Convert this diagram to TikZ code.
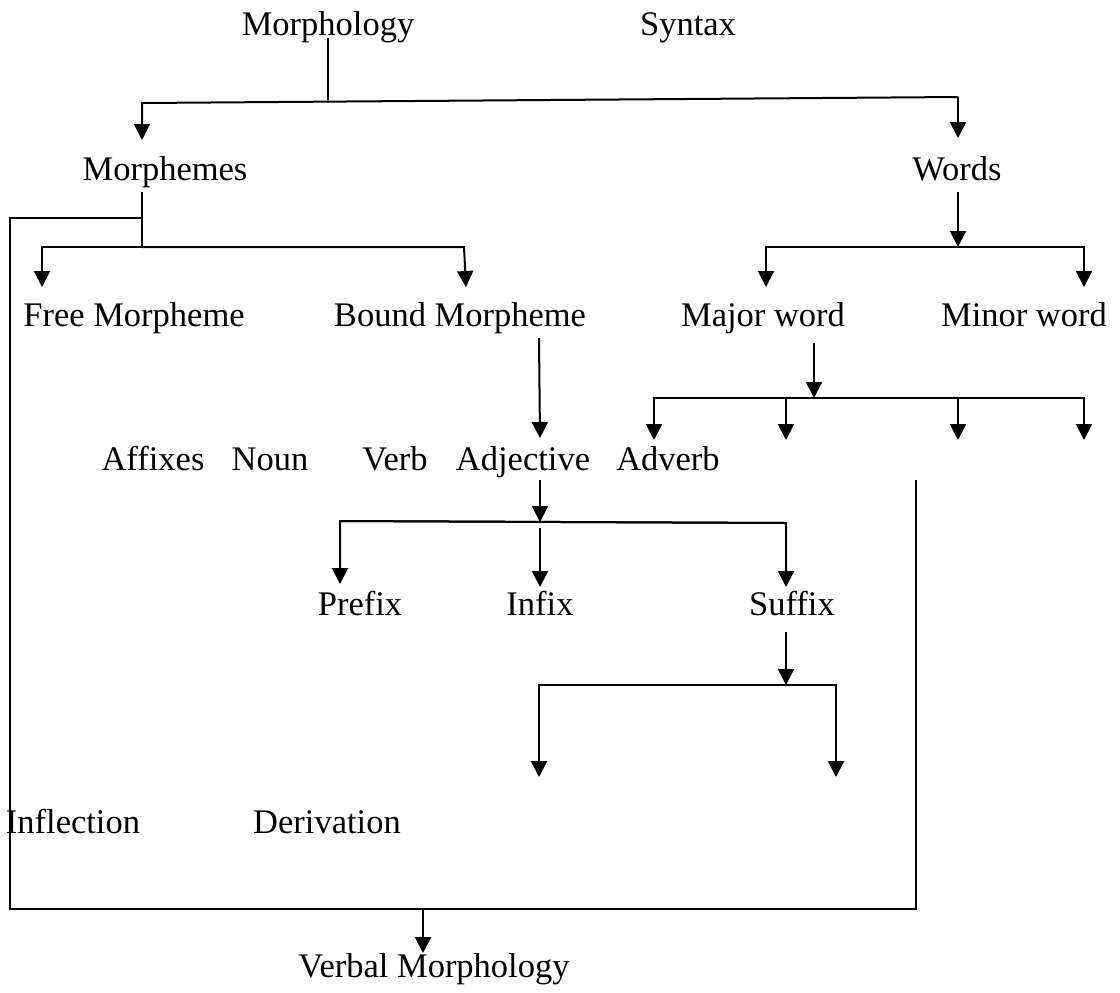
\documentclass[tikz,border=0pt]{standalone}
\usepackage{fontspec}
\setmainfont{Liberation Serif}
\usetikzlibrary{arrows.meta}
\tikzset{
  word/.style={anchor=base, inner sep=0pt, font=\fontsize{17.25}{20}\selectfont},
  wire/.style={line width=1pt},
  arr/.style={line width=1pt, -{Triangle[length=8pt,width=8pt]}}
}
\begin{document}
\begin{tikzpicture}[x=0.5pt, y=-0.5pt]
    \useasboundingbox (0,0) rectangle (1120,992);
    % labels
    \node[word] (morph) at (328,35) {Morphology};
    \node[word] (syntax) at (688,35) {Syntax};
    \node[word] (morphemes) at (165,180) {Morphemes};
    \node[word] (words) at (957,180) {Words};
    \node[word] (free) at (134,326) {Free Morpheme};
    \node[word] (bound) at (460,326) {Bound Morpheme};
    \node[word] (major) at (763,326) {Major word};
    \node[word] (minor) at (1024,326) {Minor word};
    \node[word] (affixes) at (153,470) {Affixes};
    \node[word] (noun) at (270,470) {Noun};
    \node[word] (verb) at (395,470) {Verb};
    \node[word] (adj) at (523,470) {Adjective};
    \node[word] (adverb) at (668,470) {Adverb};
    \node[word] (prefix) at (360,615) {Prefix};
    \node[word] (infix) at (540,615) {Infix};
    \node[word] (suffix) at (792,615) {Suffix};
    \node[word] (infl) at (73,833) {Inflection};
    \node[word] (deriv) at (327,833) {Derivation};
    \node[word] (verbal) at (434,977) {Verbal Morphology};

    % Morphology -> Morphemes / Words
    \coordinate (mo1) at (328,38);
    \coordinate (mo2) at (328,100);
    \coordinate (busL) at (142,103);
    \coordinate (busR) at (958,97);
    \draw[wire] (mo1) -- (mo2);
    \draw[arr] (busR) -- (busL) -- (142,140);
    \draw[arr] (busR) -- (958,138);

    % Morphemes
    \coordinate (ms1) at (142,192);
    \coordinate (ms2) at (142,247);
    \draw[wire] (ms1) -- (ms2);
    \draw[arr] (ms2) -- (42,247) -- (42,287);
    \draw[arr] (ms2) -- (464,247) -- (466,287);

    % outer frame -> Verbal Morphology
    \coordinate (fr) at (142,218);
    \coordinate (frR) at (916,480);
    \coordinate (vb) at (423,909);
    \draw[wire] (fr) -- (10,218) -- (10,909) -- (916,909) -- (frR);
    \draw[arr] (vb) -- (423,953);

    % Words
    \coordinate (wd1) at (958,192);
    \coordinate (wd2) at (958,247);
    \draw[arr] (wd1) -- (wd2);
    \draw[arr] (wd2) -- (766,247) -- (766,287);
    \draw[arr] (wd2) -- (1084,247) -- (1084,287);

    % Major word
    \coordinate (mj1) at (814,343);
    \coordinate (mj2) at (814,398);
    \draw[arr] (mj1) -- (mj2);
    \draw[arr] (mj2) -- (654,398) -- (654,440);
    \draw[arr] (786,398) -- (786,440);
    \draw[arr] (958,398) -- (958,440);
    \draw[arr] (mj2) -- (1084,398) -- (1084,440);

    % Bound Morpheme -> Adjective
    \coordinate (bd1) at (539,338);
    \coordinate (bd2) at (540,438);
    \draw[arr] (bd1) -- (bd2);

    % Adjective -> Prefix / Infix / Suffix
    \coordinate (aj1) at (540,480);
    \coordinate (aj2) at (540,522);
    \coordinate (ajL) at (340,521);
    \coordinate (ajR) at (786,523);
    \draw[arr] (aj1) -- (aj2);
    \draw[arr] (ajR) -- (ajL) -- (340,584);
    \draw[arr] (ajL) -- (ajR) -- (786,587);
    \draw[arr] (540,528) -- (540,587);

    % Suffix
    \coordinate (sf1) at (786,632);
    \coordinate (sf2) at (786,685);
    \draw[arr] (sf1) -- (sf2);
    \draw[arr] (sf2) -- (539,685) -- (539,777);
    \draw[arr] (sf2) -- (836,685) -- (836,777);
\end{tikzpicture}
\end{document}
